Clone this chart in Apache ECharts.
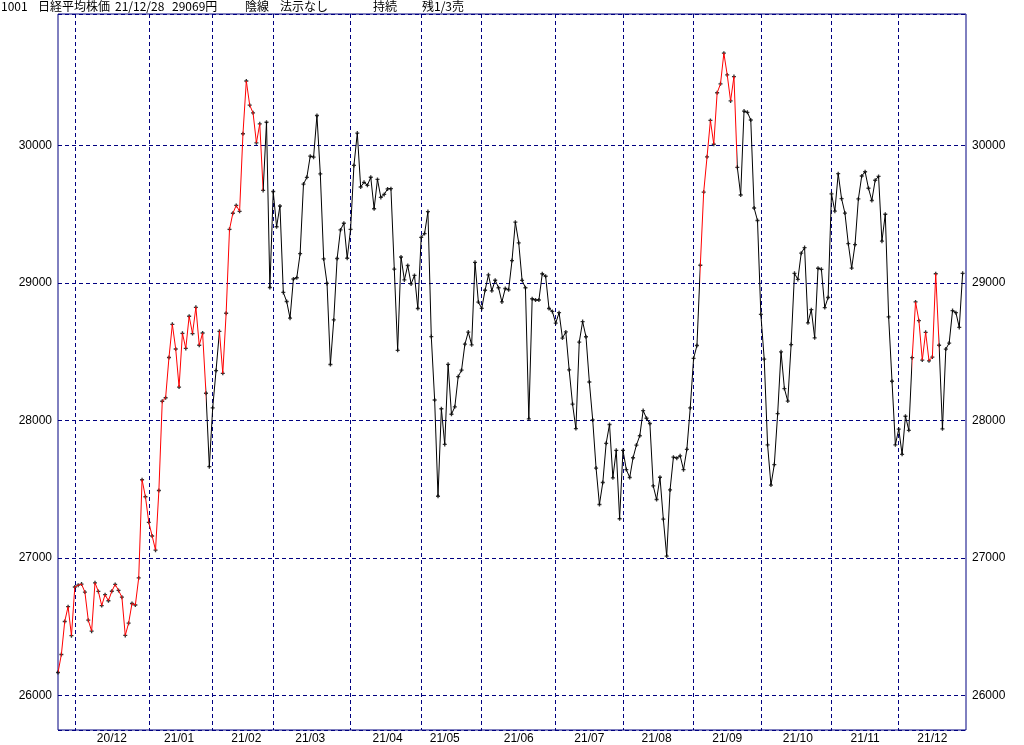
<!DOCTYPE html>
<html>
<head>
<meta charset="utf-8">
<script src="https://cdn.jsdelivr.net/npm/echarts@6/dist/echarts.min.js"></script>
<style>
html,body{margin:0;padding:0;background:#fff;}
#c{width:1024px;height:745px;}
</style>
</head>
<body>
<div id="c"></div>
<script>
// ---- data ----
const monthKeys = ['20/11','20/12','21/01','21/02','21/03','21/04','21/05','21/06','21/07','21/08','21/09','21/10','21/11','21/12'];
const monthDays = [
  [24,25,26,27,30],
  [1,2,3,4,7,8,9,10,11,14,15,16,17,18,21,22,23,24,25,28,29,30],
  [4,5,6,7,8,12,13,14,15,18,19,20,21,22,25,26,27,28,29],
  [1,2,3,4,5,8,9,10,12,15,16,17,18,19,22,24,25,26],
  [1,2,3,4,5,8,9,10,11,12,15,16,17,18,19,22,23,24,25,26,29,30,31],
  [1,2,5,6,7,8,9,12,13,14,15,16,19,20,21,22,23,26,27,28,30],
  [6,7,10,11,12,13,14,17,18,19,20,21,24,25,26,27,28,31],
  [1,2,3,4,7,8,9,10,11,14,15,16,17,18,21,22,23,24,25,28,29,30],
  [1,2,5,6,7,8,9,12,13,14,15,16,19,20,21,26,27,28,29,30],
  [2,3,4,5,6,10,11,12,13,16,17,18,19,20,23,24,25,26,27,30,31],
  [1,2,3,6,7,8,9,10,13,14,15,16,17,21,22,24,27,28,29,30],
  [1,4,5,6,7,8,11,12,13,14,15,18,19,20,21,22,25,26,27,28,29],
  [1,2,4,5,8,9,10,11,12,15,16,17,18,19,22,24,25,26,29,30],
  [1,2,3,6,7,8,9,10,13,14,15,16,17,20,21,22,23,24,27,28]
];
const monthCloses = [
  [26166,26297,26537,26645,26434],
  [26788,26801,26809,26751,26547,26467,26818,26756,26653,26732,26688,26757,26807,26763,26714,26436,26525,26668,26657,26854,27568,27444],
  [27258,27159,27056,27490,28139,28164,28457,28698,28519,28242,28633,28523,28757,28631,28822,28546,28635,28197,27663],
  [28091,28362,28647,28342,28779,29389,29506,29563,29520,30084,30468,30292,30236,30018,30156,29672,30168,28966],
  [29664,29408,29559,28930,28864,28743,29028,29037,29212,29718,29767,29921,29914,30217,29792,29174,28996,28406,28730,29177,29385,29433,29179],
  [29389,29854,30089,29697,29731,29709,29768,29539,29752,29621,29643,29683,29685,29100,28509,29188,29021,29126,28992,29054,28813],
  [29331,29358,29518,28609,28148,27448,28084,27825,28407,28044,28098,28318,28365,28554,28642,28549,29149,28860],
  [28814,28946,29058,28942,29019,28964,28861,28959,28949,29162,29441,29291,29018,28964,28011,28884,28875,28875,29066,29048,28813,28792],
  [28707,28783,28598,28643,28367,28118,27940,28569,28718,28608,28279,28003,27653,27388,27548,27833,27970,27582,27782,27284],
  [27781,27642,27584,27728,27820,27888,28071,28015,27977,27523,27424,27586,27281,27013,27494,27732,27725,27742,27641,27789,28090],
  [28451,28544,29128,29660,29916,30181,30008,30382,30447,30670,30512,30323,30500,29840,29639,30249,30240,30184,29544,29453],
  [28771,28445,27822,27529,27678,28049,28498,28231,28140,28551,29069,29025,29216,29256,28709,28805,28600,29106,29098,28820,28893],
  [29647,29521,29794,29612,29507,29285,29107,29278,29610,29777,29808,29688,29599,29746,29774,29303,29499,28752,28284,27822],
  [27936,27753,28030,27927,28456,28861,28725,28438,28640,28433,28460,29066,28546,27938,28518,28562,28798,28783,28676,29069]
];
// red (signal) stretches, as trading-day index ranges
const redSpans = [[0, 44.37], [48, 61], [191, 202], [254, 262]];
// month label dates (label centred on these days)
const labelDates = ['20/12/16','21/01/18','21/02/16','21/03/16','21/04/16','21/05/17','21/06/16','21/07/15','21/08/17','21/09/15','21/10/18','21/11/16','21/12/15'];
const yTicks = [26000, 27000, 28000, 29000, 30000];
const yMin = 25748, yMax = 30955;
const titleParts = ['1001', '日経平均株価', '21/12/28', '29069円', '陰線', '法示なし', '持続', '残1/3売'];

// ---- build ----
const dates = [], closes = [], monthStart = new Set();
monthKeys.forEach((k, mi) => {
  monthDays[mi].forEach((d, di) => {
    if (di === 0 && mi > 0) monthStart.add(dates.length);
    dates.push(k + '/' + String(d).padStart(2, '0'));
    closes.push(monthCloses[mi][di]);
  });
});
// one empty trailing slot (next session)
dates.push('21/12/29');
closes.push(null);

const labelSet = new Set(labelDates);
const titleX = [1, 38, 115, 172, 245, 280, 373, 422];
const txtFont = '12px "Noto Sans CJK JP", "Liberation Sans", sans-serif';
const axFont = 'Liberation Sans';
const navy = '#000080';
const plus = 'path://M1,0L2,0L2,1L3,1L3,2L2,2L2,3L1,3L1,2L0,2L0,1L1,1Z';

const chart = echarts.init(document.getElementById('c'), null, {renderer: 'canvas'});
chart.setOption({
  animation: false,
  backgroundColor: '#ffffff',
  grid: {left: 58, right: 58, top: 14, bottom: 15, show: true, borderColor: navy, borderWidth: 1, backgroundColor: 'transparent'},
  graphic: titleParts.map((t, i) => ({
    type: 'text', left: titleX[i], top: 0,
    style: {text: t, font: txtFont, fill: '#000'}
  })),
  xAxis: {
    type: 'category', data: dates, boundaryGap: false,
    axisLine: {show: false}, axisTick: {show: false},
    axisLabel: {
      interval: (i, v) => labelSet.has(v),
      formatter: v => v.slice(0, 5),
      color: '#000', fontSize: 12, fontFamily: axFont, margin: 3
    },
    splitLine: {show: true, interval: (i) => monthStart.has(i), lineStyle: {color: navy, type: [4, 3], width: 1}}
  },
  yAxis: [
    {
      type: 'value', min: yMin, max: yMax, position: 'left', splitNumber: 5,
      axisLine: {show: false}, axisTick: {show: false},
      axisLabel: {showMinLabel: false, showMaxLabel: false, color: '#000', fontSize: 12, fontFamily: axFont, margin: 6,
        formatter: v => (yTicks.indexOf(v) >= 0 ? String(v) : '')},
      splitLine: {show: true, lineStyle: {color: navy, type: [4, 3], width: 1}}
    },
    {
      type: 'value', min: yMin, max: yMax, position: 'right', splitNumber: 5,
      axisLine: {show: false}, axisTick: {show: false},
      axisLabel: {showMinLabel: false, showMaxLabel: false, color: '#000', fontSize: 12, fontFamily: axFont, margin: 6,
        formatter: v => (yTicks.indexOf(v) >= 0 ? String(v) : '')},
      splitLine: {show: false}
    }
  ],
  visualMap: {
    type: 'piecewise', show: false, dimension: 0, seriesIndex: 0,
    pieces: redSpans.map(s => ({gte: s[0], lte: s[1], color: '#ff0000'})),
    outOfRange: {color: '#000000'}
  },
  series: [
    {type: 'line', data: closes, showSymbol: false, lineStyle: {width: 1}, silent: true},
    {type: 'scatter', data: closes, symbol: plus, symbolSize: 4, itemStyle: {color: '#000000'}, silent: true}
  ]
});
</script>
</body>
</html>
